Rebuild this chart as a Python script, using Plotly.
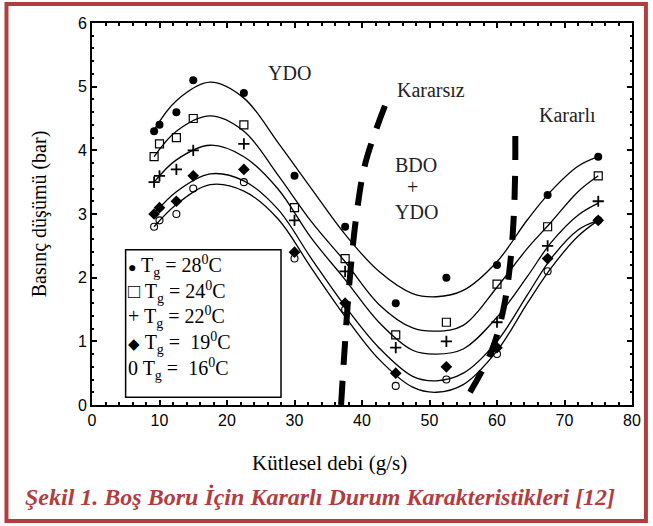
import plotly.graph_objects as go

x_pts = [9.2, 10, 12.5, 15, 22.5, 30, 37.5, 45, 52.5, 60, 67.5, 75]
y28 = [4.3, 4.4, 4.6, 5.1, 4.9, 3.6, 2.8, 1.6, 2.0, 2.2, 3.3, 3.9]
y24 = [3.9, 4.1, 4.2, 4.5, 4.4, 3.1, 2.3, 1.1, 1.3, 1.9, 2.8, 3.6]
y22 = [3.5, 3.6, 3.7, 4.0, 4.1, 2.9, 2.1, 0.9, 1.0, 1.3, 2.5, 3.2]
y19 = [3.0, 3.1, 3.2, 3.6, 3.7, 2.4, 1.6, 0.5, 0.6, 0.9, 2.3, 2.9]
y16 = [2.8, 2.9, 3.0, 3.4, 3.5, 2.3, 1.5, 0.3, 0.4, 0.8, 2.1, 2.9]

# ---- fitted curves ----
x_fit = [9.2, 12.5, 17.5, 22.5, 27.5, 32.5, 37.5, 42.5, 47.5, 51, 55, 60, 64.5, 68, 72, 75]
f28 = [4.32, 4.78, 5.07, 4.82, 4.13, 3.40, 2.68, 2.10, 1.75, 1.70, 1.80, 2.25, 2.91, 3.36, 3.75, 3.90]
f24 = [3.90, 4.30, 4.54, 4.30, 3.62, 2.88, 2.25, 1.58, 1.21, 1.16, 1.25, 1.85, 2.46, 2.87, 3.35, 3.60]
f22 = [3.50, 3.85, 4.08, 3.90, 3.40, 2.62, 1.97, 1.30, 0.86, 0.80, 0.88, 1.38, 2.02, 2.55, 2.98, 3.17]
f19 = [3.00, 3.35, 3.63, 3.52, 3.08, 2.30, 1.55, 0.90, 0.45, 0.38, 0.50, 1.00, 1.73, 2.30, 2.75, 2.90]
f16 = [2.80, 3.15, 3.46, 3.36, 2.93, 2.15, 1.39, 0.72, 0.28, 0.20, 0.32, 0.85, 1.60, 2.15, 2.65, 2.90]

# ---- boundary lines ----
unstable_x = [36.9, 37.5, 38.2, 39.2, 40.5, 43.4]
unstable_y = [0.0, 1.0, 2.0, 3.0, 3.8, 4.7]
stable_x = [56.0, 59.2, 61.0, 62.0, 62.5, 62.7, 62.7]
stable_y = [0.2, 0.85, 1.53, 2.27, 3.0, 3.74, 4.42]

series_names = ["Tg = 28°C", "Tg = 24°C", "Tg = 22°C", "Tg = 19°C", "Tg = 16°C"]
legend_rows = [
    "<span style='font-size:14px'>●</span> T<sub>g</sub> = 28<sup>0</sup>C",
    "□ T<sub>g</sub> = 24<sup>0</sup>C",
    "+ T<sub>g</sub> = 22<sup>0</sup>C",
    "<span style='font-size:15px'>◆</span> T<sub>g</sub> =\u00a0 19<sup>0</sup>C",
    "0 T<sub>g</sub> =\u00a0 16<sup>0</sup>C",
]
legend_y = [2.19, 1.78, 1.38, 0.97, 0.57]

serif = "Liberation Serif"
sans = "Liberation Sans"
red = "#b13e3e"

W, H = 653, 526
L, R, T, B = 92, 18, 23, 121
pw, ph = W - L - R, H - T - B


def px_x(p):
    return (p - L) / pw


def px_y(p):
    return (H - p - B) / ph


fig = go.Figure()

for fy in [f28, f24, f22, f19, f16]:
    fig.add_trace(go.Scatter(x=x_fit, y=fy, mode="lines",
                             line=dict(color="black", width=1.3, shape="spline", smoothing=1.0),
                             showlegend=False, hoverinfo="skip"))

markers = [
    dict(symbol="circle", size=8, color="black"),
    dict(symbol="square-open", size=8, color="black", line=dict(width=1.2)),
    dict(symbol="cross-thin", size=8, color="black", line=dict(width=1.8, color="black")),
    dict(symbol="diamond", size=9, color="black"),
    dict(symbol="circle-open", size=7, color="black", line=dict(width=1.1)),
]
for name, yv, mk in zip(series_names, [y28, y24, y22, y19, y16], markers):
    fig.add_trace(go.Scatter(x=x_pts, y=yv, mode="markers", name=name, marker=mk, showlegend=False))

for bx, by in [(unstable_x, unstable_y), (stable_x, stable_y)]:
    fig.add_trace(go.Scatter(x=bx, y=by, mode="lines",
                             line=dict(color="black", width=6, dash="24px,16px", shape="spline"),
                             showlegend=False, hoverinfo="skip"))

# legend box
fig.add_shape(type="rect", xref="x", yref="y", x0=4.98, x1=28.0, y0=0.12, y1=2.44,
              line=dict(color="black", width=1.5), fillcolor="white", layer="below")
for txt, ly in zip(legend_rows, legend_y):
    fig.add_annotation(x=5.0, y=ly, xref="x", yref="y", text=txt, showarrow=False, xanchor="left",
                       yanchor="middle", font=dict(family=serif, size=20, color="black"))

# region labels
for txt, ax, ay in [("YDO", 29.2, 5.22), ("Kararsız", 50.2, 4.95), ("BDO", 48.0, 3.77), ("+", 47.5, 3.42),
                    ("YDO", 48.0, 3.03), ("Kararlı", 70.4, 4.56)]:
    fig.add_annotation(x=ax, y=ay, xref="x", yref="y", text=txt, showarrow=False,
                       font=dict(family=serif, size=20, color="#222222"))

# x axis title (offset left as in the reference)
fig.add_annotation(x=px_x(331), y=px_y(463), xref="paper", yref="paper", text="Kütlesel debi (g/s)",
                   showarrow=False, xanchor="center", yanchor="middle",
                   font=dict(family=serif, size=21, color="black"))

# caption
fig.add_annotation(x=px_x(23), y=px_y(497), xref="paper", yref="paper",
                   text="<b><i>Şekil 1. Boş Boru İçin Kararlı Durum Karakteristikleri [12]</i></b>",
                   showarrow=False, xanchor="left", yanchor="middle",
                   font=dict(family=serif, size=24, color=red))

# outer red border
fig.add_shape(type="rect", xref="paper", yref="paper",
              x0=px_x(6), x1=px_x(W - 4), y0=px_y(521), y1=px_y(4),
              line=dict(color=red, width=4))

fig.update_layout(
    width=W, height=H,
    margin=dict(l=L, r=R, t=T, b=B),
    paper_bgcolor="white", plot_bgcolor="white",
    showlegend=False,
)
fig.update_xaxes(range=[0, 80], dtick=10, tick0=0, showgrid=False, zeroline=False,
                 showline=True, linecolor="black", linewidth=2, mirror="ticks",
                 ticks="inside", ticklen=5, tickwidth=1.5, tickcolor="black",
                 minor=dict(dtick=2, ticks="inside", ticklen=3, tickcolor="black", showgrid=False),
                 tickfont=dict(family=sans, size=16, color="black"))
fig.update_yaxes(range=[0, 6], dtick=1, tick0=0, showgrid=False, zeroline=False,
                 showline=True, linecolor="black", linewidth=2, mirror="ticks",
                 ticks="inside", ticklen=5, tickwidth=1.5, tickcolor="black",
                 minor=dict(dtick=0.2, ticks="inside", ticklen=2, tickcolor="black", showgrid=False),
                 tickfont=dict(family=sans, size=16, color="black"),
                 title=dict(text="Basınç düşümü (bar)", font=dict(family=serif, size=20, color="black"), standoff=26))

fig.write_html("out.html", config={"displayModeBar": False},
               post_script="document.body.style.margin='0';document.body.style.overflow='hidden';")
